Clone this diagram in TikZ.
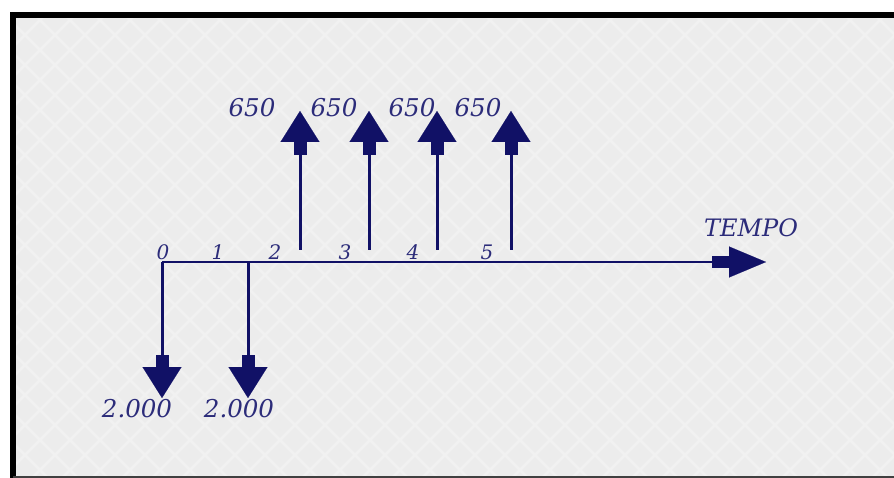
\documentclass[tikz,border=0pt]{standalone}
\usepackage{fontspec}
\setmainfont{DejaVu Serif}
\usetikzlibrary{arrows.meta}
\definecolor{navy}{RGB}{17,17,102}
\definecolor{labelnavy}{RGB}{44,44,122}
\definecolor{bggray}{RGB}{236,236,236}
\definecolor{hatchlight}{RGB}{241,241,241}
\begin{document}
\begin{tikzpicture}[x=1pt,y=-1pt,
  lbl/.style={text=labelnavy,inner sep=0pt,font=\fontsize{24.5}{24.5}\selectfont\itshape},
  ticklbl/.style={text=labelnavy,inner sep=0pt,font=\fontsize{20}{20}\selectfont\itshape},
  flow/.style={draw=navy,line width=3pt,
    -{Rectangle[length=12pt,width=13pt,sep=0pt,line width=0.1pt] Triangle[length=31pt,width=39pt,line width=0.1pt]}},
  axisline/.style={draw=navy,line width=2.5pt,
    -{Rectangle[length=17pt,width=11pt,sep=0pt,line width=0.1pt] Triangle[length=37pt,width=31pt,line width=0.1pt]}}]
\useasboundingbox (0,0) rectangle (894,478);
\fill[white] (0,0) rectangle (894,478);
\fill[bggray] (13,15) rectangle (894,477);
\begin{scope}
  \clip (13,15) rectangle (894,477);
  \foreach \i in {-520,-490,...,900} {
    \draw[hatchlight,line width=2.5pt] (\i,0) -- ++(520,520);
    \draw[hatchlight,line width=2.5pt] (\i,520) -- ++(520,-520);
  }
\end{scope}
% frame
\draw[black,line width=6pt] (13,478) -- (13,15) -- (894,15);
\draw[black!75,line width=2pt] (13,476.5) -- (894,476.5);
% axis
\coordinate (o) at (162,262);
\coordinate (t1) at (248,262);
\coordinate (axend) at (766,262);
\draw[axisline] (o) -- (axend);
% outflows
\coordinate (d0) at (162,398);
\coordinate (d1) at (248,398);
\draw[flow] (o) -- (d0);
\draw[flow] (t1) -- (d1);
% inflows
\coordinate (u2s) at (300,250); \coordinate (u2e) at (300,111);
\coordinate (u3s) at (369,250); \coordinate (u3e) at (369,111);
\coordinate (u4s) at (437,250); \coordinate (u4e) at (437,111);
\coordinate (u5s) at (511,250); \coordinate (u5e) at (511,111);
\draw[flow] (u2s) -- (u2e);
\draw[flow] (u3s) -- (u3e);
\draw[flow] (u4s) -- (u4e);
\draw[flow] (u5s) -- (u5e);
% tick labels
\node[ticklbl] (l0) at (163,252) {0};
\node[ticklbl] (l1) at (218,252) {1};
\node[ticklbl] (l2) at (275,252) {2};
\node[ticklbl] (l3) at (345,252) {3};
\node[ticklbl] (l4) at (413,252) {4};
\node[ticklbl] (l5) at (487,252) {5};
% values
\node[lbl] (v2) at (252,108) {650};
\node[lbl] (v3) at (334,108) {650};
\node[lbl] (v4) at (412,108) {650};
\node[lbl] (v5) at (478,108) {650};
\node[lbl] (w0) at (137,409) {2.000};
\node[lbl] (w1) at (239,409) {2.000};
\node[lbl,font=\fontsize{24}{24}\selectfont\itshape] (tempo) at (751,228) {TEMPO};
\end{tikzpicture}
\end{document}
